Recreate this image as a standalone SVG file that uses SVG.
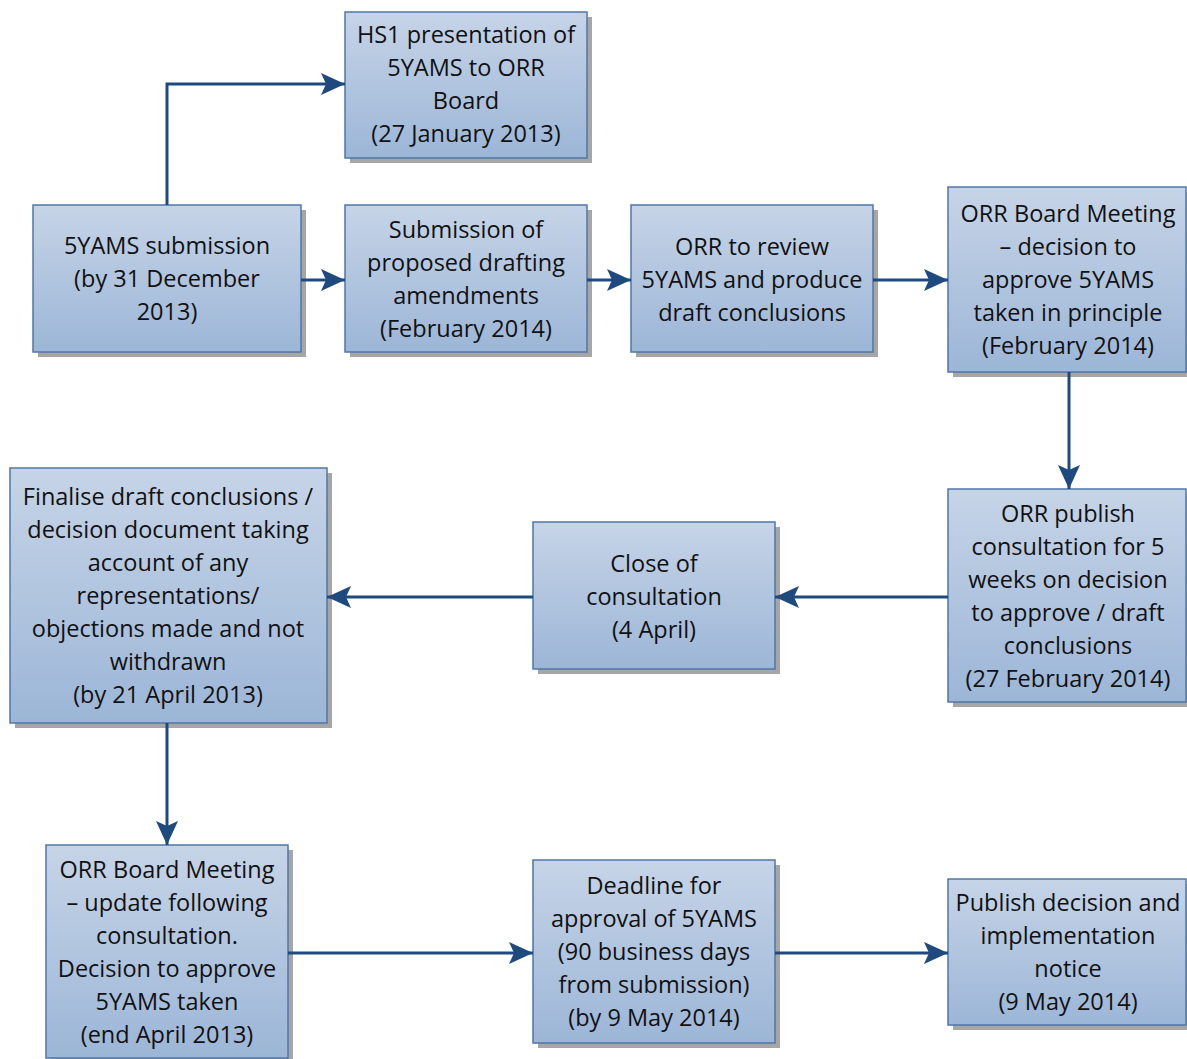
<svg xmlns="http://www.w3.org/2000/svg" width="1187" height="1059" viewBox="0 0 1187 1059">
<defs>
<linearGradient id="g" x1="0" y1="0" x2="0" y2="1">
<stop offset="0" stop-color="#c6d4e7"/>
<stop offset="1" stop-color="#9cb6d7"/>
</linearGradient>
<marker id="a" markerWidth="24" markerHeight="22" refX="24" refY="11" orient="auto" markerUnits="userSpaceOnUse">
<path d="M0,0 L24,11 L0,22 L5,11 Z" fill="#1f4a80"/>
</marker>
<style>
.sh{fill:#a6a6a6}
.bx{fill:url(#g);stroke:#4f77a8;stroke-width:1.5}
text{font-family:"Open Sans","Noto Sans","Liberation Sans",sans-serif;font-size:23.5px;fill:#111;text-anchor:middle}
.c{fill:none;stroke:#1f4a80;stroke-width:3;marker-end:url(#a)}
</style>
</defs>
<g id="n1">
<rect class="sh" x="350" y="17" width="242" height="146"/>
<rect class="bx" x="345" y="12" width="242" height="146"/>
<text x="466" y="43">HS1 presentation of</text>
<text x="466" y="76">5YAMS to ORR</text>
<text x="466" y="109">Board</text>
<text x="466" y="142">(27 January 2013)</text>
</g>
<g id="n2">
<rect class="sh" x="38" y="210" width="268" height="147"/>
<rect class="bx" x="33" y="205" width="268" height="147"/>
<text x="167" y="254">5YAMS submission</text>
<text x="167" y="287">(by 31 December</text>
<text x="167" y="320">2013)</text>
</g>
<g id="n3">
<rect class="sh" x="350" y="210" width="242" height="147"/>
<rect class="bx" x="345" y="205" width="242" height="147"/>
<text x="466" y="238">Submission of</text>
<text x="466" y="271">proposed drafting</text>
<text x="466" y="304">amendments</text>
<text x="466" y="337">(February 2014)</text>
</g>
<g id="n4">
<rect class="sh" x="636" y="210" width="242" height="147"/>
<rect class="bx" x="631" y="205" width="242" height="147"/>
<text x="752" y="255">ORR to review</text>
<text x="752" y="288">5YAMS and produce</text>
<text x="752" y="321">draft conclusions</text>
</g>
<g id="n5">
<rect class="sh" x="953" y="192" width="238" height="185"/>
<rect class="bx" x="948" y="187" width="238" height="185"/>
<text x="1068" y="222">ORR Board Meeting</text>
<text x="1068" y="255">– decision to</text>
<text x="1068" y="288">approve 5YAMS</text>
<text x="1068" y="321">taken in principle</text>
<text x="1068" y="354">(February 2014)</text>
</g>
<g id="n6">
<rect class="sh" x="953" y="494" width="238" height="213"/>
<rect class="bx" x="948" y="489" width="238" height="213"/>
<text x="1068" y="522">ORR publish</text>
<text x="1068" y="555">consultation for 5</text>
<text x="1068" y="588">weeks on decision</text>
<text x="1068" y="621">to approve / draft</text>
<text x="1068" y="654">conclusions</text>
<text x="1068" y="687">(27 February 2014)</text>
</g>
<g id="n7">
<rect class="sh" x="538" y="527" width="242" height="147"/>
<rect class="bx" x="533" y="522" width="242" height="147"/>
<text x="654" y="572">Close of</text>
<text x="654" y="605">consultation</text>
<text x="654" y="638">(4 April)</text>
</g>
<g id="n8">
<rect class="sh" x="15" y="473" width="317" height="255"/>
<rect class="bx" x="10" y="468" width="317" height="255"/>
<text x="168" y="505">Finalise draft conclusions /</text>
<text x="168" y="538">decision document taking</text>
<text x="168" y="571">account of any</text>
<text x="168" y="604">representations/</text>
<text x="168" y="637">objections made and not</text>
<text x="168" y="670">withdrawn</text>
<text x="168" y="703">(by 21 April 2013)</text>
</g>
<g id="n9">
<rect class="sh" x="51" y="850" width="242" height="213"/>
<rect class="bx" x="46" y="845" width="242" height="213"/>
<text x="167" y="878">ORR Board Meeting</text>
<text x="167" y="911">– update following</text>
<text x="167" y="944">consultation.</text>
<text x="167" y="977">Decision to approve</text>
<text x="167" y="1010">5YAMS taken</text>
<text x="167" y="1043">(end April 2013)</text>
</g>
<g id="n10">
<rect class="sh" x="538" y="865" width="242" height="183"/>
<rect class="bx" x="533" y="860" width="242" height="183"/>
<text x="654" y="894">Deadline for</text>
<text x="654" y="927">approval of 5YAMS</text>
<text x="654" y="960">(90 business days</text>
<text x="654" y="993">from submission)</text>
<text x="654" y="1026">(by 9 May 2014)</text>
</g>
<g id="n11">
<rect class="sh" x="953" y="884" width="238" height="146"/>
<rect class="bx" x="948" y="879" width="238" height="146"/>
<text x="1068" y="911">Publish decision and</text>
<text x="1068" y="944">implementation</text>
<text x="1068" y="977">notice</text>
<text x="1068" y="1010">(9 May 2014)</text>
</g>
<g id="connectors">
<path class="c" d="M167,205 V84 H345"/>
<path class="c" d="M301,280 H345"/>
<path class="c" d="M587,280 H631"/>
<path class="c" d="M873,280 H948"/>
<path class="c" d="M1069,372 V489"/>
<path class="c" d="M948,597 H775"/>
<path class="c" d="M533,597 H327"/>
<path class="c" d="M167,723 V845"/>
<path class="c" d="M288,953 H533"/>
<path class="c" d="M775,953 H948"/>
</g>
</svg>
